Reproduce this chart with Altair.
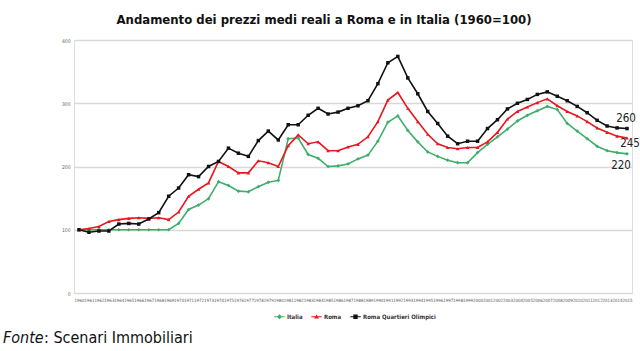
import altair as alt
import pandas as pd

years = [str(y) for y in range(1960, 2016)]
italia = [100, 100, 100, 100, 100, 100, 100, 100, 100, 100,
          110, 132, 139, 149, 176, 170, 161, 160, 168, 175,
          178, 244, 245, 219, 213, 200, 201, 204, 212, 218,
          240, 270, 280, 257, 239, 223, 216, 210, 206, 206,
          222, 235, 247, 259, 272, 281, 288, 295, 290, 268,
          256, 244, 232, 225, 222, 220]
roma = [100, 102, 105, 113, 116, 118, 119, 118, 119, 116,
        128, 153, 164, 174, 208, 200, 190, 190, 209, 206,
        200, 233, 250, 236, 239, 225, 225, 231, 235, 247,
        271, 305, 317, 292, 271, 251, 236, 230, 228, 230,
        230, 239, 254, 275, 287, 294, 301, 307, 296, 287,
        280, 271, 261, 254, 248, 245]
olimpici = [100, 96, 98, 98, 109, 110, 109, 117, 127, 153,
            166, 187, 184, 200, 208, 229, 221, 216, 241, 256,
            242, 266, 266, 281, 292, 283, 286, 292, 296, 304,
            331, 364, 374, 340, 315, 287, 268, 248, 236, 240,
            240, 260, 274, 291, 300, 306, 314, 318, 311, 304,
            295, 285, 273, 264, 261, 260]

series_names = ["Italia", "Roma", "Roma Quartieri Olimpici"]
colors = ["#3fae6a", "#e8161e", "#111111"]
marker_shapes = ["diamond", "triangle-up", "square"]
marker_sizes = [14, 12, 24]
legend_shapes = [
    "M-1,-0.11H1V0.11H-1Z M0,-0.5L0.5,0L0,0.5L-0.5,0Z",
    "M-1,-0.11H1V0.11H-1Z M0,-0.45L0.45,0.35H-0.45Z",
    "M-1,-0.11H1V0.11H-1Z M-0.42,-0.42H0.42V0.42H-0.42Z",
]
title_text = "Andamento dei prezzi medi reali a Roma e in Italia (1960=100)"
source_italic = "Fonte"
source_rest = ": Scenari Immobiliari"

FONT = "DejaVu Sans Condensed, sans-serif"
NARROW = "Liberation Sans Narrow, DejaVu Sans Condensed, sans-serif"

rows = []
for name, vals in zip(series_names, [italia, roma, olimpici]):
    for y, v in zip(years, vals):
        rows.append({"year": y, "series": name, "value": v})
df = pd.DataFrame(rows)

x_enc = alt.X("year:O", scale=alt.Scale(type="point", padding=0.5),
              axis=alt.Axis(title=None, labelAngle=0, labelFontSize=4.4, labelColor="#555555",
                            labelFont=NARROW, ticks=False, domain=False, grid=False,
                            labelPadding=5, labelOverlap=False))
y_enc = alt.Y("value:Q", scale=alt.Scale(domain=[0, 400], nice=False),
              axis=alt.Axis(title=None, values=list(range(0, 401, 50)), labelFontSize=5,
                            labelColor="#666666", labelFont=NARROW, ticks=False, domain=False,
                            grid=True, gridColor="#d9d9d9", gridWidth=1.5, labelPadding=4))
color_scale = alt.Scale(domain=series_names, range=colors)

lines = alt.Chart(df).mark_line(strokeWidth=1.6).encode(
    x=x_enc, y=y_enc,
    color=alt.Color("series:N", scale=color_scale, legend=None),
)
points = alt.Chart(df).mark_point(filled=True, opacity=1).encode(
    x="year:O", y="value:Q",
    color=alt.Color("series:N", scale=color_scale, legend=None),
    shape=alt.Shape("series:N", scale=alt.Scale(domain=series_names, range=marker_shapes), legend=None),
    size=alt.Size("series:N", scale=alt.Scale(domain=series_names, range=marker_sizes), legend=None),
)

leg = alt.Legend(title=None, orient="none", legendX=200, legendY=271, direction="horizontal",
                 labelFont=NARROW, labelFontSize=6, labelFontWeight="bold", labelColor="#333333",
                 symbolSize=110, symbolStrokeWidth=0, columnPadding=8, labelOffset=2)
legend_layer = alt.Chart(df).transform_filter("false").mark_point(filled=True, size=110, opacity=1).encode(
    color=alt.Color("series:N", scale=alt.Scale(domain=series_names, range=colors), legend=leg),
    shape=alt.Shape("series:N", scale=alt.Scale(domain=series_names, range=legend_shapes), legend=leg),
)

end_df = df[df["year"] == years[-1]]
end_styles = {"Roma Quartieri Olimpici": (-1, -10), "Roma": (3, 6), "Italia": (-6, 12)}
end_layers = []
for name, (dx, dy) in end_styles.items():
    end_layers.append(
        alt.Chart(end_df[end_df["series"] == name]).mark_text(
            font=NARROW, fontSize=11.5, color="#222222", dx=dx, dy=dy, align="center", baseline="middle"
        ).encode(x="year:O", y="value:Q", text=alt.Text("value:Q", format="d"))
    )

title_layer = alt.Chart(alt.Data(values=[{"t": title_text}])).mark_text(
    font=FONT, fontSize=13, fontWeight="bold", color="#111111", align="center", baseline="alphabetic"
).encode(x=alt.value(250), y=alt.value(-16), text="t:N")

src1 = alt.Chart(alt.Data(values=[{"t": source_italic}])).mark_text(
    font=FONT, fontSize=16, fontStyle="italic", color="#111111", align="left", baseline="alphabetic"
).encode(x=alt.value(-71), y=alt.value(303), text="t:N")
src2 = alt.Chart(alt.Data(values=[{"t": source_rest}])).mark_text(
    font=FONT, fontSize=16, color="#111111", align="left", baseline="alphabetic"
).encode(x=alt.value(-30), y=alt.value(303), text="t:N")

chart = alt.layer(lines, points, legend_layer, *end_layers, title_layer, src1, src2).resolve_scale(
    shape="independent", color="independent"
).properties(
    width=558, height=253,
    autosize=alt.AutoSizeParams(type="none"),
    padding={"left": 74, "top": 40, "right": 8, "bottom": 58},
).configure_view(stroke=None).configure(background="white")

chart.save("out.html", embed_options={"renderer": "svg", "actions": False})
